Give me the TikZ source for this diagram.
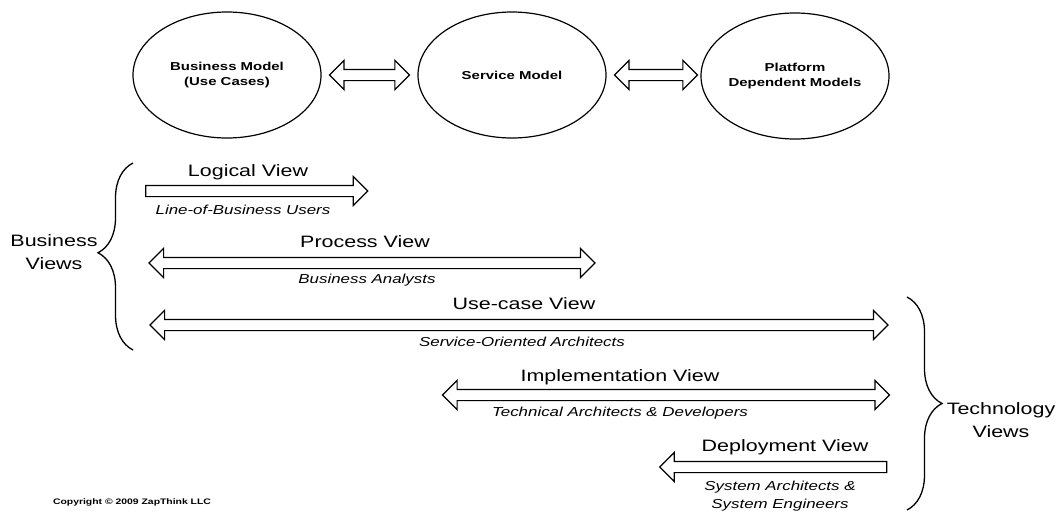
\documentclass[tikz,border=0pt]{standalone}
\usepackage{fontspec}
\setmainfont{Liberation Sans}[FakeStretch=1.3]
\usetikzlibrary{arrows.meta,positioning,shapes.geometric,shapes.arrows,decorations.pathreplacing}

\tikzset{
  model/.style={draw,ellipse,line width=1.2pt,minimum width=188pt,minimum height=126pt,
    inner sep=0pt,align=center,font=\fontsize{11.5}{15}\selectfont\bfseries},
  twoway/.style={draw,double arrow,line width=1.2pt,inner sep=5pt,minimum width=28pt,
    double arrow head extend=9pt},
  oneway/.style={draw,single arrow,line width=1.2pt,inner sep=5pt,minimum width=28pt,
    single arrow head extend=9pt},
  viewname/.style={font=\fontsize{16.5}{20}\selectfont},
  viewuser/.style={font=\fontsize{13}{18}\selectfont\itshape,align=center},
  sidename/.style={font=\fontsize{16.5}{23}\selectfont,align=center},
  curly/.style={line width=1.3pt,decorate,decoration={brace,amplitude=35pt}}
}

\begin{document}
\begin{tikzpicture}[x=1pt,y=-1pt]
  \useasboundingbox (0,0) rectangle (1057,517);
  % models
  \node[model] (BM) at (227,75) {Business Model\\(Use Cases)};
  \node[model] (SM) at (512,75) {Service Model};
  \node[model] (PM) at (795,76) {Platform\\Dependent Models};
  \node[twoway,minimum height=80pt,right=7pt of BM] (BMSM) {};
  \node[twoway,minimum height=83pt,right=7pt of SM] (SMPM) {};
  % views
  \node[oneway,minimum height=222pt] (LV) at (254,191) {};
  \node[twoway,minimum height=446pt] (PV) at (372,263) {};
  \node[twoway,minimum height=738pt] (UV) at (519,325) {};
  \node[twoway,minimum height=447pt] (IV) at (666,395) {};
  \node[oneway,shape border rotate=180,minimum height=227pt] (DV) at (776,467) {};
  \node[viewname] (LVname) at (248,172) {Logical View};
  \node[viewuser] (LVuser) at (243,210) {Line-of-Business Users};
  \node[viewname] (PVname) at (365,242) {Process View};
  \node[viewuser] (PVuser) at (367,280) {Business Analysts};
  \node[viewname] (UVname) at (524,304) {Use-case View};
  \node[viewuser] (UVuser) at (522,342) {Service-Oriented Architects};
  \node[viewname] (IVname) at (620,377) {Implementation View};
  \node[viewuser] (IVuser) at (620,413) {Technical Architects \& Developers};
  \node[viewname] (DVname) at (785,447) {Deployment View};
  \node[viewuser] (DVuser) at (780,496) {System Architects \&\\System Engineers};
  % braces
  \draw[curly,decoration={aspect=0.52}] (133,350) -- (133,163);
  \draw[curly,decoration={aspect=0.5}] (907,297) -- (907,510);
  \node[sidename] (BV) at (54,252) {Business\\Views};
  \node[sidename] (TV) at (1001,420) {Technology\\Views};
  \node[font=\fontsize{8}{10}\selectfont\bfseries] (CR) at (132,502) {Copyright © 2009 ZapThink LLC};
\end{tikzpicture}
\end{document}
